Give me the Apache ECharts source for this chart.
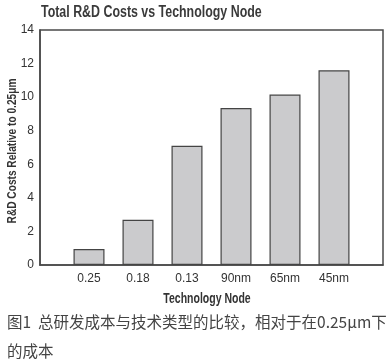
<!DOCTYPE html>
<html>
<head>
<meta charset="utf-8">
<script src="https://cdn.jsdelivr.net/npm/echarts@6/dist/echarts.min.js"></script>
<style>
html,body{margin:0;padding:0;background:#fff;}
#c{width:391px;height:361px;}
</style>
</head>
<body>
<div id="c"></div>
<script>
var categories = ['0.25', '0.18', '0.13', '90nm', '65nm', '45nm'];
var costs = [0.95, 2.7, 7.1, 9.35, 10.15, 11.6];
var yTicks = [0, 2, 4, 6, 8, 10, 12, 14];

var seriesData = costs.map(function (v, i) { return [i + 1, v]; });

var sans = "'Liberation Sans', Arial, sans-serif";
var cjk = "'Noto Sans CJK SC', sans-serif";
var chart = echarts.init(document.getElementById('c'), null, {renderer: 'canvas'});
chart.setOption({
  backgroundColor: '#ffffff',
  animation: false,
  grid: {
    left: 40, top: 30, right: 8, bottom: 96,
    show: true, borderColor: '#4a4a4a', borderWidth: 1.5, backgroundColor: 'transparent'
  },
  xAxis: {
    type: 'value',
    min: 0, max: categories.length + 1, interval: 1,
    axisLine: {show: true, onZero: false, lineStyle: {color: '#4a4a4a', width: 1.5}},
    axisTick: {show: false},
    splitLine: {show: false},
    axisLabel: {
      margin: 8, fontFamily: sans, fontSize: 12, color: '#333',
      formatter: function (v) { return categories[v - 1] || ''; }
    }
  },
  yAxis: {
    type: 'value',
    min: yTicks[0], max: yTicks[yTicks.length - 1], interval: 2,
    axisLine: {show: true, lineStyle: {color: '#4a4a4a', width: 1.5}},
    axisTick: {show: false},
    splitLine: {show: false},
    axisLabel: {margin: 6, fontFamily: sans, fontSize: 12, color: '#333'}
  },
  series: [{
    type: 'bar',
    data: seriesData,
    barWidth: 31,
    itemStyle: {color: '#cbcbcd', borderColor: '#444', borderWidth: 1.2}
  }],
  graphic: [
    {type: 'text', x: 41, y: 5, scaleX: 0.775, scaleY: 1,
     style: {text: 'Total R&D Costs vs Technology Node', fontFamily: sans, fontWeight: 'bold', fontSize: 16, fill: '#3a3a3a'}},
    {type: 'text', x: 12, y: 151, rotation: Math.PI / 2, scaleX: 0.78, scaleY: 1,
     style: {text: 'R&D Costs Relative to 0.25μm', fontFamily: sans, fontWeight: 'bold', fontSize: 13, fill: '#333', align: 'center', verticalAlign: 'middle'}},
    {type: 'text', x: 207, y: 299, scaleX: 0.75, scaleY: 1,
     style: {text: 'Technology Node', fontFamily: sans, fontWeight: 'bold', fontSize: 14, fill: '#333', align: 'center', verticalAlign: 'middle'}},
    {type: 'text', left: 7, top: 314, style: {text: '图1  总研发成本与技术类型的比较，相对于在0.25μm下', fontFamily: cjk, fontSize: 15.5, fill: '#444'}},
    {type: 'text', left: 7, top: 343, style: {text: '的成本', fontFamily: cjk, fontSize: 15.5, fill: '#444'}}
  ]
});
</script>
</body>
</html>
